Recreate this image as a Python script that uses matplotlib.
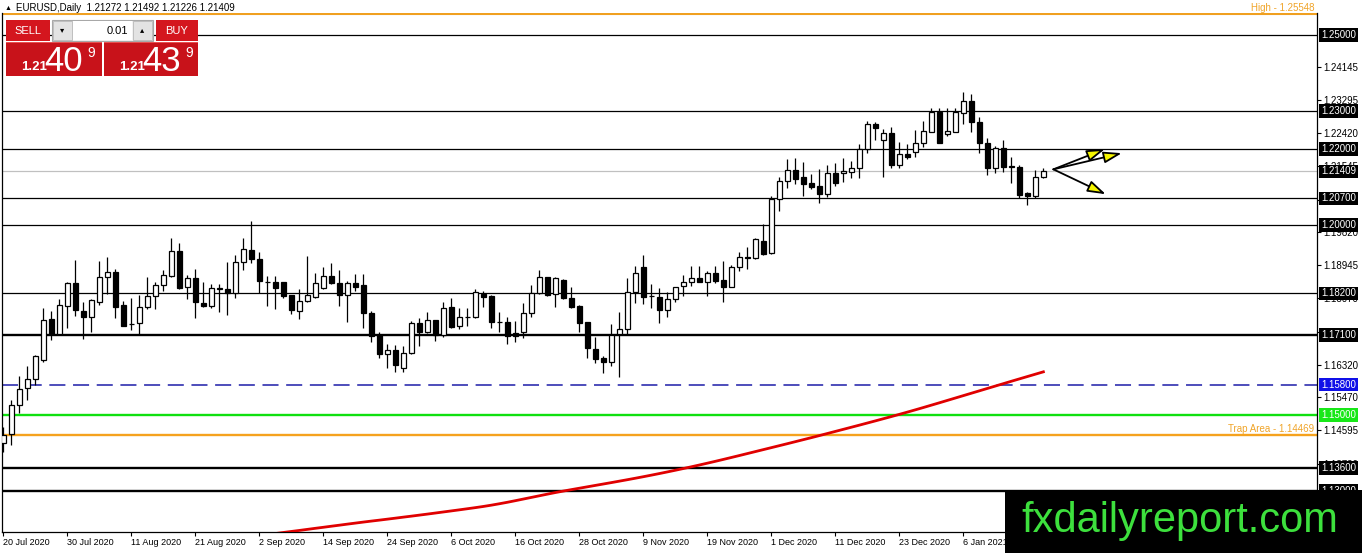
import matplotlib
matplotlib.use("Agg")
import matplotlib.pyplot as plt
import matplotlib.transforms as mtransforms
from matplotlib.patches import Rectangle, FancyArrowPatch

plt.rcParams["font.family"] = ["Liberation Sans", "DejaVu Sans"]

# ---- data (EURUSD daily) ----
symbol = "EURUSD,Daily"

opens = [1.14263, 1.14500, 1.15260, 1.15710, 1.15950, 1.16450, 1.17530, 1.17130, 1.17870, 1.18470,
         1.17740, 1.17580, 1.17970, 1.18630, 1.18760, 1.17900, 1.17400, 1.17420, 1.17840, 1.18130,
         1.18420, 1.18660, 1.19320, 1.18370, 1.18610, 1.17950, 1.17870, 1.18320, 1.18320, 1.18210,
         1.19030, 1.19340, 1.19110, 1.18510, 1.18500, 1.18500, 1.18160, 1.17740, 1.18000, 1.18110,
         1.18340, 1.18660, 1.18470, 1.18160, 1.18470, 1.18420, 1.17690, 1.17110, 1.16610, 1.16710,
         1.16240, 1.16630, 1.17420, 1.17180, 1.17500, 1.17110, 1.17840, 1.17340, 1.17580, 1.17580,
         1.18180, 1.18130, 1.17450, 1.17450, 1.17160, 1.17180, 1.17680, 1.18210, 1.18630, 1.18180,
         1.18550, 1.18080, 1.17870, 1.17450, 1.16740, 1.16500, 1.16400, 1.17130, 1.17260, 1.18240,
         1.18900, 1.18130, 1.18110, 1.17760, 1.18050, 1.18400, 1.18500, 1.18610, 1.18500, 1.18740,
         1.18550, 1.18370, 1.18900, 1.19150, 1.19130, 1.19580, 1.19260, 1.20680, 1.21160, 1.21450,
         1.21260, 1.21100, 1.21030, 1.20820, 1.21370, 1.21370, 1.21390, 1.21500, 1.22000, 1.22660,
         1.22240, 1.22420, 1.21580, 1.21870, 1.21920, 1.22160, 1.22450, 1.22980, 1.22400, 1.22450,
         1.22950, 1.23260, 1.22710, 1.22160, 1.21500, 1.22030, 1.21550, 1.21530, 1.20840, 1.20760,
         1.21272]
highs = [1.14684, 1.15390, 1.16030, 1.16290, 1.16580, 1.17820, 1.17740, 1.18050, 1.18500, 1.19080,
         1.17970, 1.18050, 1.19050, 1.19160, 1.18840, 1.18000, 1.18080, 1.18160, 1.18630, 1.18500,
         1.18820, 1.19660, 1.19530, 1.18680, 1.18840, 1.18500, 1.18450, 1.18450, 1.19030, 1.19210,
         1.19660, 1.20110, 1.19290, 1.18660, 1.18660, 1.18510, 1.18170, 1.18320, 1.19180, 1.18740,
         1.18900, 1.19000, 1.18820, 1.18530, 1.18710, 1.18710, 1.17740, 1.17180, 1.16870, 1.16840,
         1.16820, 1.17470, 1.17560, 1.17710, 1.17510, 1.17970, 1.18080, 1.17820, 1.17820, 1.18320,
         1.18260, 1.18160, 1.17710, 1.17580, 1.17470, 1.17950, 1.18420, 1.18820, 1.18640, 1.18630,
         1.18580, 1.18370, 1.17900, 1.17450, 1.17050, 1.16550, 1.17400, 1.17710, 1.18610, 1.18920,
         1.19210, 1.18450, 1.18340, 1.18240, 1.18380, 1.18680, 1.18920, 1.18920, 1.18790, 1.18920,
         1.19050, 1.18950, 1.19290, 1.19420, 1.19660, 1.20030, 1.20760, 1.21260, 1.21740, 1.21760,
         1.21660, 1.21340, 1.21470, 1.21580, 1.21630, 1.21760, 1.21680, 1.22130, 1.22740, 1.22710,
         1.22530, 1.22580, 1.22180, 1.22130, 1.22500, 1.22740, 1.23080, 1.23080, 1.23080, 1.23080,
         1.23500, 1.23440, 1.22840, 1.22290, 1.22080, 1.22240, 1.21790, 1.21580, 1.20870, 1.21450,
         1.21492]
lows = [1.14026, 1.14210, 1.15050, 1.15390, 1.15790, 1.16400, 1.16970, 1.17110, 1.17290, 1.17610,
        1.17000, 1.17180, 1.17890, 1.18180, 1.17550, 1.17340, 1.17240, 1.17110, 1.17790, 1.17790,
        1.18260, 1.18630, 1.18320, 1.18050, 1.17550, 1.17840, 1.17820, 1.17710, 1.17630, 1.18080,
        1.18820, 1.19000, 1.18210, 1.17870, 1.17790, 1.18080, 1.17660, 1.17530, 1.17970, 1.18080,
        1.18320, 1.18450, 1.17870, 1.17450, 1.18260, 1.17290, 1.16920, 1.16500, 1.16240, 1.16130,
        1.16130, 1.16610, 1.16820, 1.17160, 1.16950, 1.17050, 1.17290, 1.17260, 1.17340, 1.17550,
        1.17840, 1.17290, 1.17180, 1.16870, 1.16920, 1.17030, 1.17580, 1.18190, 1.18130, 1.17840,
        1.18050, 1.17820, 1.17180, 1.16500, 1.16370, 1.16110, 1.16290, 1.16000, 1.17130, 1.17950,
        1.17920, 1.17820, 1.17420, 1.17580, 1.17970, 1.18130, 1.18400, 1.18490, 1.18130, 1.18470,
        1.17970, 1.18360, 1.18790, 1.18840, 1.19110, 1.19210, 1.19240, 1.20370, 1.20970, 1.21080,
        1.20760, 1.20950, 1.20580, 1.20740, 1.21030, 1.21130, 1.21240, 1.21240, 1.21890, 1.22240,
        1.21260, 1.21500, 1.21500, 1.21740, 1.21790, 1.22050, 1.22440, 1.22150, 1.22340, 1.22440,
        1.22660, 1.22450, 1.21890, 1.21320, 1.21370, 1.21390, 1.21100, 1.20710, 1.20530, 1.20710,
        1.21226]
closes = [1.14474, 1.15260, 1.15680, 1.15950, 1.16550, 1.17500, 1.17130, 1.17900, 1.18470, 1.17760,
          1.17580, 1.18030, 1.18630, 1.18760, 1.17840, 1.17340, 1.17390, 1.17840, 1.18130, 1.18420,
          1.18680, 1.19320, 1.18340, 1.18610, 1.17970, 1.17870, 1.18340, 1.18340, 1.18210, 1.19030,
          1.19370, 1.19110, 1.18530, 1.18490, 1.18340, 1.18130, 1.17760, 1.18000, 1.18160, 1.18470,
          1.18660, 1.18470, 1.18160, 1.18470, 1.18370, 1.17690, 1.17080, 1.16610, 1.16710, 1.16320,
          1.16630, 1.17420, 1.17180, 1.17500, 1.17110, 1.17820, 1.17320, 1.17580, 1.17570, 1.18240,
          1.18110, 1.17450, 1.17440, 1.17080, 1.17080, 1.17680, 1.18210, 1.18630, 1.18160, 1.18610,
          1.18080, 1.17840, 1.17420, 1.16760, 1.16470, 1.16400, 1.17110, 1.17260, 1.18240, 1.18740,
          1.18110, 1.18120, 1.17760, 1.18050, 1.18370, 1.18500, 1.18610, 1.18500, 1.18740, 1.18530,
          1.18370, 1.18900, 1.19160, 1.19140, 1.19630, 1.19240, 1.20680, 1.21160, 1.21450, 1.21210,
          1.21080, 1.21000, 1.20820, 1.21370, 1.21100, 1.21420, 1.21500, 1.22000, 1.22660, 1.22550,
          1.22420, 1.21580, 1.21870, 1.21790, 1.22160, 1.22470, 1.22980, 1.22160, 1.22470, 1.22980,
          1.23260, 1.22710, 1.22160, 1.21500, 1.22030, 1.21530, 1.21530, 1.20790, 1.20760, 1.21260,
          1.21409]

# moving average, first value belongs to bar 34
ma_start = 34
ma_values = [1.11880, 1.11908, 1.11935, 1.11962, 1.11990, 1.12018, 1.12045, 1.12073, 1.12100, 1.12128,
             1.12155, 1.12182, 1.12208, 1.12233, 1.12259, 1.12285, 1.12312, 1.12338, 1.12365, 1.12392,
             1.12420, 1.12448, 1.12476, 1.12504, 1.12533, 1.12562, 1.12593, 1.12627, 1.12664, 1.12703,
             1.12745, 1.12788, 1.12831, 1.12874, 1.12917, 1.12959, 1.12998, 1.13036, 1.13073, 1.13110,
             1.13147, 1.13184, 1.13221, 1.13259, 1.13297, 1.13336, 1.13376, 1.13417, 1.13459, 1.13502,
             1.13546, 1.13591, 1.13637, 1.13684, 1.13732, 1.13781, 1.13831, 1.13882, 1.13933, 1.13985,
             1.14037, 1.14089, 1.14141, 1.14193, 1.14245, 1.14298, 1.14351, 1.14404, 1.14458, 1.14513,
             1.14568, 1.14623, 1.14678, 1.14733, 1.14789, 1.14845, 1.14902, 1.14959, 1.15017, 1.15076,
             1.15136, 1.15197, 1.15259, 1.15321, 1.15384, 1.15447, 1.15510, 1.15573, 1.15636, 1.15699,
             1.15762, 1.15825, 1.15888, 1.15950, 1.16012, 1.16074, 1.16136]

date_labels = ["20 Jul 2020", "30 Jul 2020", "11 Aug 2020", "21 Aug 2020", "2 Sep 2020",
               "14 Sep 2020", "24 Sep 2020", "6 Oct 2020", "16 Oct 2020", "28 Oct 2020",
               "9 Nov 2020", "19 Nov 2020", "1 Dec 2020", "11 Dec 2020", "23 Dec 2020", "6 Jan 2021"]
bars_per_label = 8

axis_ticks = [1.24145, 1.23295, 1.22420, 1.21545, 1.20670, 1.19820, 1.18945,
              1.18070, 1.17195, 1.16320, 1.15470, 1.14595, 1.13720, 1.12845]

thin_levels = [1.25000, 1.23000, 1.22000, 1.20700, 1.20000, 1.18200]
bold_levels = [1.17100, 1.13600, 1.13000]
blue_level = 1.15800
green_level = 1.15000
trap_level = 1.14469
high_level = 1.25548
bid_price = 1.21409
ask_price = 1.21439

arrow_origin = (131.25, 1.21465)
arrow_targets = [(137.7, 1.22000), (139.8, 1.21890), (137.8, 1.20810)]

# ---- figure ----
W, H = 1362, 553
fig = plt.figure(figsize=(W / 100, H / 100), dpi=100)
fig.patch.set_facecolor("white")
ax = fig.add_axes([2 / W, 21 / H, 1315 / W, 519 / H])
ax.set_xlim(-0.16, 164.2)
ax.set_ylim(1.11921, 1.25579)

# level lines
for v in thin_levels:
    ax.axhline(v, color="black", lw=0.9, zorder=1)
for v in bold_levels:
    ax.axhline(v, color="black", lw=1.7, zorder=1)
ax.axhline(high_level, color="#f0a020", lw=1.5, zorder=1)
ax.axhline(blue_level, color="#1c1ca8", lw=1.1, ls=(0, (10.5, 5)), zorder=1)
ax.axhline(green_level, color="#10e010", lw=1.7, zorder=1)
ax.axhline(trap_level, color="#f5a21e", lw=1.7, zorder=1)
ax.axhline(closes[-1], color="#c0c0c0", lw=0.9, zorder=1)

# candles
for i, (o, h, l, c) in enumerate(zip(opens, highs, lows, closes)):
    ax.vlines(i, l, h, color="black", lw=0.9, zorder=3)
    bottom = min(o, c)
    height = max(abs(c - o), 0.00002)
    ax.add_patch(Rectangle((i - 0.3, bottom), 0.6, height,
                           fc="white" if c >= o else "black", ec="black",
                           lw=0.9, zorder=4))

# moving average
ma_x = list(range(ma_start, ma_start + len(ma_values)))
ax.plot(ma_x, ma_values, color="#e00000", lw=2.0, zorder=5)

# arrows
for tx, ty in arrow_targets:
    ax.add_patch(FancyArrowPatch(arrow_origin, (tx, ty),
                                 arrowstyle="-|>,head_length=1.1,head_width=0.35",
                                 mutation_scale=10, fc="#f5f500", ec="black",
                                 lw=1.3, zorder=6, shrinkA=0, shrinkB=0))

# axes styling
ax.spines["top"].set_visible(False)
for s in ("left", "bottom", "right"):
    ax.spines[s].set_linewidth(0.9)
ax.yaxis.tick_right()
ax.set_yticks(axis_ticks)
ax.set_yticklabels([f"{v:.5f}" for v in axis_ticks])
ax.tick_params(axis="y", length=3, width=0.8, labelsize=7, pad=1.5)
ax.set_xticks(range(0, bars_per_label * len(date_labels), bars_per_label))
ax.set_xticklabels(date_labels)
for lbl in ax.get_xticklabels():
    lbl.set_ha("left")
ax.tick_params(axis="x", length=3, width=0.8, labelsize=6.5, pad=1.5)

trans = mtransforms.blended_transform_factory(ax.transAxes, ax.transData)


def tag(price, fc):
    ax.annotate(f"{price:.5f}", xy=(1, price), xycoords=trans, xytext=(3, 0),
                textcoords="offset points", ha="left", va="center", fontsize=7,
                color="white", annotation_clip=False, zorder=10,
                bbox=dict(boxstyle="square,pad=0.18", fc=fc, ec="none"))


for v in thin_levels + bold_levels:
    tag(v, "black")
tag(closes[-1], "black")
tag(blue_level, "#1010e8")
tag(green_level, "#18e818")

ax.annotate(f"High - {high_level:.5f}", xy=(1, high_level), xycoords=trans,
            xytext=(-2, 1), textcoords="offset points", ha="right", va="bottom",
            fontsize=7, color="#f0a428", annotation_clip=False)
ax.annotate(f"Trap Area - {trap_level:.5f}", xy=(1, trap_level), xycoords=trans,
            xytext=(-2, 1), textcoords="offset points", ha="right", va="bottom",
            fontsize=7, color="#f0a428", annotation_clip=False)

# ---- overlay: title, trade panel, logo (pixel coords) ----
ov = fig.add_axes([0, 0, 1, 1], zorder=10)
ov.set_xlim(0, W)
ov.set_ylim(H, 0)
ov.axis("off")

ov.text(5, 8, "▲", fontsize=5, va="center", color="black")
ov.text(16, 8, f"{symbol}  {opens[-1]:.5f} {highs[-1]:.5f} {lows[-1]:.5f} {closes[-1]:.5f}",
        fontsize=7, va="center", color="black")

red = "#d4161e"
ov.add_patch(Rectangle((6, 20), 44, 21, fc=red, ec="none"))
ov.add_patch(Rectangle((156, 20), 42, 21, fc=red, ec="none"))
ov.text(28, 31, "SELL", color="white", fontsize=8, ha="center", va="center")
ov.text(177, 31, "BUY", color="white", fontsize=8, ha="center", va="center")
ov.add_patch(Rectangle((52, 20), 101, 21, fc="#f2f2f2", ec="#a8a8a8", lw=0.8))
ov.add_patch(Rectangle((53, 21), 19, 19, fc="#e3e3e3", ec="#b8b8b8", lw=0.6))
ov.add_patch(Rectangle((133, 21), 19, 19, fc="#e3e3e3", ec="#b8b8b8", lw=0.6))
ov.add_patch(Rectangle((73, 21), 59, 19, fc="white", ec="none"))
ov.text(62.5, 30.5, "▾", fontsize=6, ha="center", va="center", color="black")
ov.text(142.5, 30.5, "▴", fontsize=6, ha="center", va="center", color="black")
ov.text(128, 30.5, "0.01", fontsize=8, ha="right", va="center", color="black")

for x0, w, price in ((6, 96, bid_price), (104, 94, ask_price)):
    s = f"{price:.5f}"
    ov.add_patch(Rectangle((x0, 42), w, 34, fc="#c8121a", ec="none"))
    ov.add_patch(Rectangle((x0, 42), w, 1, fc="#e85050", ec="none"))
    ov.text(x0 + 15, 70, s[:4], color="white", fontsize=9.5, fontweight="bold",
            ha="left", va="baseline")
    ov.text(x0 + 38, 71, s[4:6], color="white", fontsize=25, ha="left", va="baseline")
    ov.text(x0 + 81, 57, s[6:], color="white", fontsize=10, ha="left", va="baseline")

ov.add_patch(Rectangle((1005, 490), W - 1005, H - 490, fc="black", ec="none"))
ov.text(1021, 532, "fxdailyreport.com", fontsize=30, color="#3de03d",
        ha="left", va="baseline", family="Liberation Sans")

fig.savefig("out.png", dpi=100)
